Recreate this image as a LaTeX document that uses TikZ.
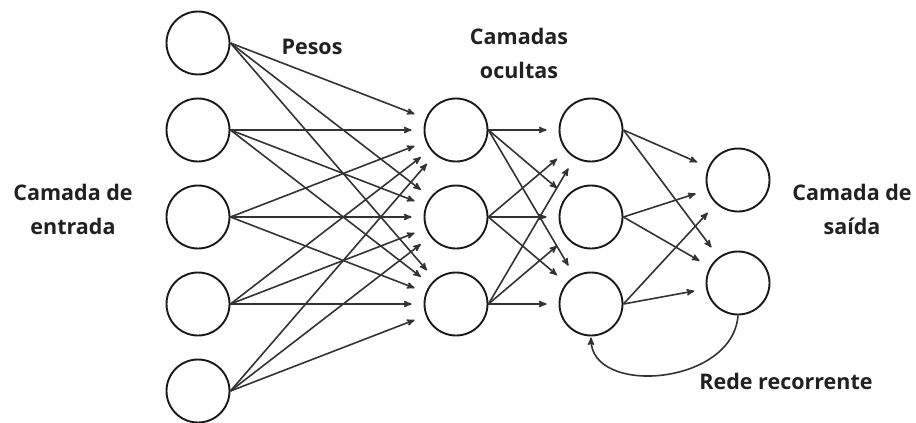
\documentclass[tikz,border=0pt]{standalone}
\usepackage{fontspec}
\setmainfont{Open Sans}
\usetikzlibrary{arrows,positioning}
\definecolor{linegray}{HTML}{333333}

\begin{document}
\begin{tikzpicture}[x=1pt,y=-1pt,->,>=stealth',shorten >=12pt,node distance=87pt,
  main node/.style={circle,draw=black!90,line width=1.9pt,minimum size=63pt,inner sep=0pt},
  layer label/.style={font=\bfseries\fontsize{21.5}{34}\selectfont,text=black!87,align=center}]

 \useasboundingbox (0,0) rectangle (916,423);

 % camada de entrada
 \node[main node] (i1) at (198,43) {};
 \node[main node] (i2) [below of=i1] {};
 \node[main node] (i3) [below of=i2] {};
 \node[main node] (i4) [below of=i3] {};
 \node[main node] (i5) [below of=i4] {};
 % camadas ocultas
 \node[main node] (a1) [right of=i2,node distance=258pt] {};
 \node[main node] (a2) [below of=a1] {};
 \node[main node] (a3) [below of=a2] {};
 \node[main node] (b1) [right of=a1,node distance=135pt] {};
 \node[main node] (b2) [below of=b1] {};
 \node[main node] (b3) [below of=b2] {};
 % camada de saida
 \node[main node] (o1) at (738,180) {};
 \node[main node] (o2) [below of=o1,node distance=103pt] {};

 \path[every edge/.style={draw=linegray,line width=1.6pt}]
    (i1.east) edge (a1) edge (a2) edge (a3)
    (i2.east) edge (a1) edge (a2) edge (a3)
    (i3.east) edge (a1) edge (a2) edge (a3)
    (i4.east) edge (a1) edge (a2) edge (a3)
    (i5.east) edge (a1) edge (a2) edge (a3)
    (a1.east) edge (b1) edge (b2) edge (b3)
    (a2.east) edge (b1) edge (b2) edge (b3)
    (a3.east) edge (b1) edge (b2) edge (b3)
    (b1.east) edge (o1) edge (o2)
    (b2.east) edge (o1) edge (o2)
    (b3.east) edge (o1) edge (o2);

 % rede recorrente
 \draw[draw=linegray,line width=1.6pt,shorten >=1pt]
    (o2.south) .. controls +(-5,70) and +(0,60) .. (b3.south);

 \node[layer label] (pesos) at (312,47) {Pesos};
 \node[layer label] (ocultas) at (519,53) {Camadas\\ocultas};
 \node[layer label] (entrada) at (73,209) {Camada de\\entrada};
 \node[layer label] (saida) at (852,209) {Camada de\\saída};
 \node[layer label] (recorrente) at (786,381) {Rede recorrente};
\end{tikzpicture}
\end{document}
